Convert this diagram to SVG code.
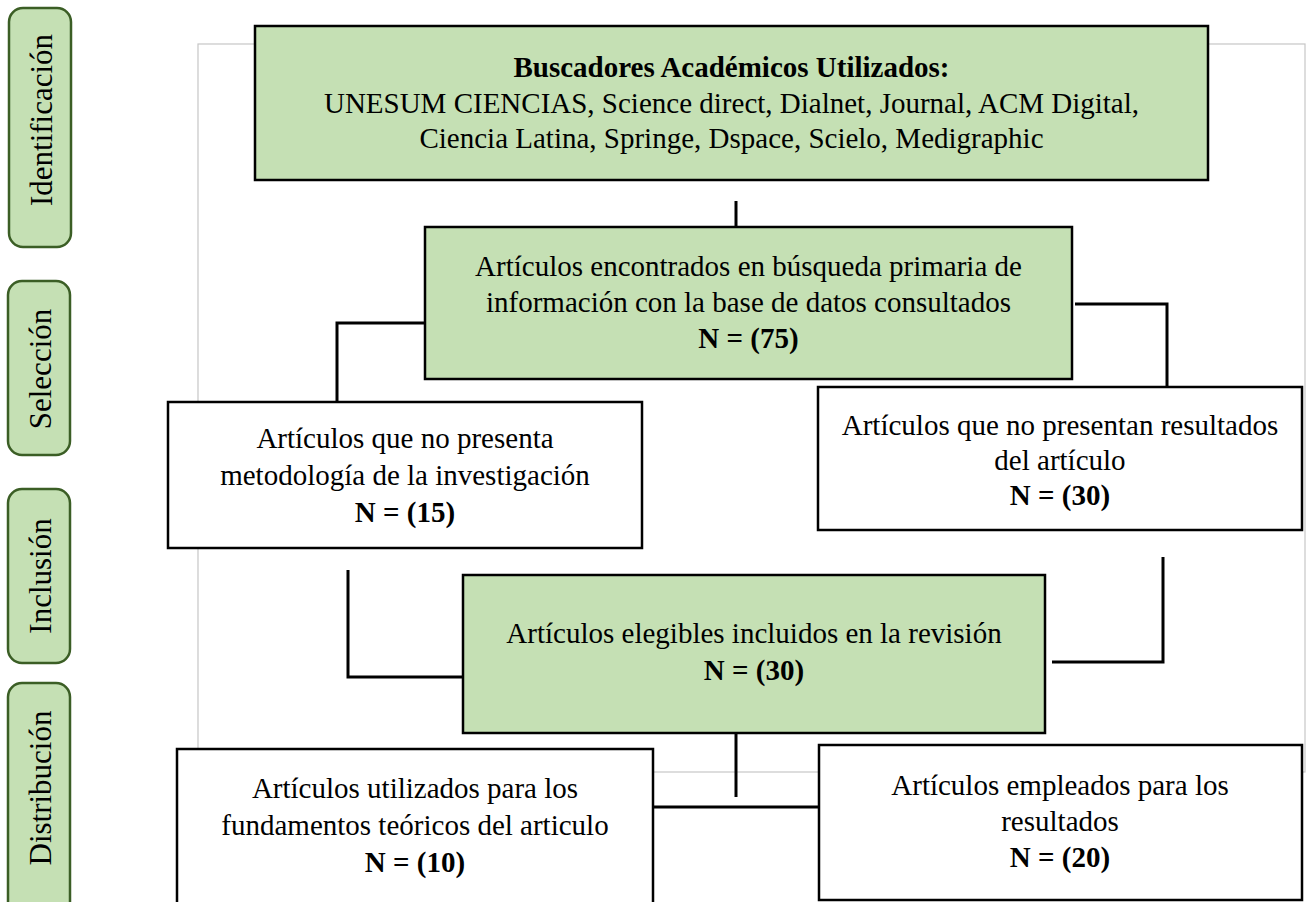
<svg xmlns="http://www.w3.org/2000/svg" width="1308" height="902" viewBox="0 0 1308 902">
<style>
.pill{fill:#c5e0b4;stroke:#3b5e25;stroke-width:2.5}
.g{fill:#c5e0b4;stroke:#000;stroke-width:2.5}
.w{fill:#fff;stroke:#000;stroke-width:2.5}
.t{font-family:"Liberation Serif","Times New Roman",serif;font-size:29px;fill:#000;text-anchor:middle}
.b{font-weight:bold}
.p{font-family:"Liberation Serif","Times New Roman",serif;font-size:31px;fill:#000;text-anchor:middle}
.c{fill:none;stroke:#000;stroke-width:3}
</style>
<rect width="1308" height="902" fill="#fff"/>
<g id="frame"><rect x="198" y="44" width="1107" height="728" fill="none" stroke="#c6c6c6" stroke-width="1.2"/></g>
<g id="phase-identificacion"><rect class="pill" x="9" y="8" width="62" height="239" rx="14"/><text class="p" transform="translate(52,120) rotate(-90)">Identificación</text></g>
<g id="phase-seleccion"><rect class="pill" x="8" y="281" width="62" height="174" rx="14"/><text class="p" transform="translate(51,369) rotate(-90)">Selección</text></g>
<g id="phase-inclusion"><rect class="pill" x="8" y="489" width="62" height="174" rx="14"/><text class="p" transform="translate(51,576) rotate(-90)">Inclusión</text></g>
<g id="phase-distribucion"><rect class="pill" x="8" y="683" width="62" height="240" rx="14"/><text class="p" transform="translate(51,788) rotate(-90)">Distribución</text></g>
<g id="connectors">
<polyline class="c" points="736,201 736,227"/>
<polyline class="c" points="425,323 337,323 337,402"/>
<polyline class="c" points="1075,304 1167,304 1167,387"/>
<polyline class="c" points="348,570 348,677 463,677"/>
<polyline class="c" points="1163,557 1163,662 1052,662"/>
<polyline class="c" points="736,733 736,797"/>
<polyline class="c" points="653,807 819,807"/>
</g>
<g id="buscadores"><rect class="g" x="255" y="26" width="953" height="154"/>
<text class="t b" x="731.5" y="77">Buscadores Académicos Utilizados:</text>
<text class="t" x="731.5" y="113">UNESUM CIENCIAS, Science direct, Dialnet, Journal, ACM Digital,</text>
<text class="t" x="731.5" y="148">Ciencia Latina, Springe, Dspace, Scielo, Medigraphic</text></g>
<g id="encontrados"><rect class="g" x="425" y="227" width="647" height="152"/>
<text class="t" x="748.5" y="276">Artículos encontrados en búsqueda primaria de</text>
<text class="t" x="748.5" y="312">información con la base de datos consultados</text>
<text class="t b" x="748.5" y="348">N = (75)</text></g>
<g id="sin-metodologia"><rect class="w" x="168" y="402" width="474" height="146"/>
<text class="t" x="405" y="448">Artículos que no presenta</text>
<text class="t" x="405" y="485">metodología de la investigación</text>
<text class="t b" x="405" y="522">N = (15)</text></g>
<g id="sin-resultados"><rect class="w" x="818" y="387" width="484" height="143"/>
<text class="t" x="1060" y="435">Artículos que no presentan resultados</text>
<text class="t" x="1060" y="470">del artículo</text>
<text class="t b" x="1060" y="505">N = (30)</text></g>
<g id="elegibles"><rect class="g" x="463" y="575" width="582" height="158"/>
<text class="t" x="754" y="643">Artículos elegibles incluidos en la revisión</text>
<text class="t b" x="754" y="680">N = (30)</text></g>
<g id="fundamentos"><rect class="w" x="177" y="749" width="476" height="170"/>
<text class="t" x="415" y="798">Artículos utilizados para los</text>
<text class="t" x="415" y="835">fundamentos teóricos del articulo</text>
<text class="t b" x="415" y="872">N = (10)</text></g>
<g id="resultados"><rect class="w" x="819" y="745" width="483" height="155"/>
<text class="t" x="1060" y="795">Artículos empleados para los</text>
<text class="t" x="1060" y="831">resultados</text>
<text class="t b" x="1060" y="867">N = (20)</text></g>
</svg>
